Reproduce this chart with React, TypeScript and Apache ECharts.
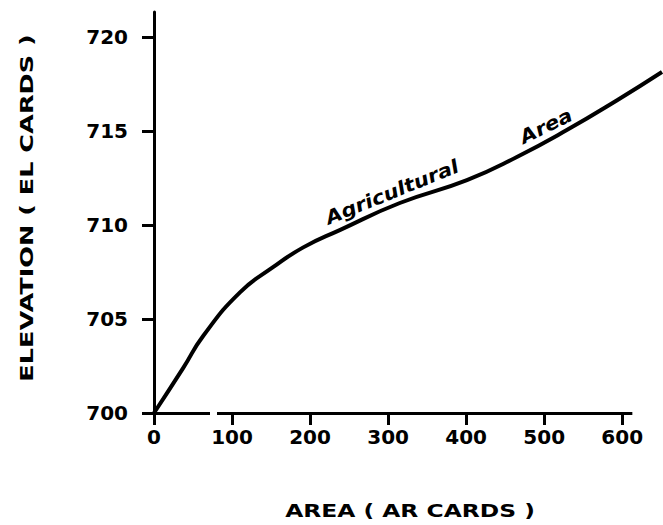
import React, { useEffect, useRef } from "react";
import * as echarts from "echarts";

const areaValues = [0, 37.5, 63.2, 110.2, 153, 191.3, 238, 315, 401, 465, 529, 594, 651];
const elevationValues = [700, 702.4, 704.11, 706.42, 707.77, 708.81, 709.73, 711.17, 712.39, 713.62, 715.05, 716.65, 718.14];
const xTicks = [0, 100, 200, 300, 400, 500, 600];
const yTicks = [700, 705, 710, 715, 720];
const xAxisEnd = 613;
const xTitle = "AREA ( AR CARDS )";
const yTitle = "ELEVATION ( EL CARDS )";
const label1 = "Agricultural";
const label2 = "Area";

const FONT = "DejaVu Sans";

export default function App() {
  const ref = useRef<HTMLDivElement>(null);
  useEffect(() => {
    if (!ref.current) return;
    const chart = echarts.init(ref.current, null, { renderer: "svg" });
    const data = areaValues.map((a, i) => [a, elevationValues[i]]);
    chart.setOption({
      animation: false,
      backgroundColor: "#ffffff",
      grid: { left: 154, right: 1, top: 12, bottom: 112, containLabel: false },
      xAxis: {
        type: "value",
        min: 0,
        max: 651,
        splitLine: { show: false },
        axisLine: { show: false },
        axisTick: { show: true, length: 12, inside: false, customValues: xTicks, lineStyle: { color: "#000", width: 3 } },
        axisLabel: {
          customValues: xTicks,
          margin: 14,
          color: "#000",
          fontFamily: FONT,
          fontWeight: "bold",
          fontSize: 20,
        },
      },
      yAxis: {
        type: "value",
        min: 700,
        max: 721.33,
        splitLine: { show: false },
        axisLine: { show: true, onZero: false, lineStyle: { color: "#000", width: 3 } },
        axisTick: { show: true, length: 12, inside: false, customValues: yTicks, lineStyle: { color: "#000", width: 3 } },
        axisLabel: {
          customValues: yTicks,
          margin: 26,
          color: "#000",
          fontFamily: FONT,
          fontWeight: "bold",
          fontSize: 20,
        },
      },
      series: [
        {
          type: "line",
          data,
          smooth: 0.5,
          clip: false,
          showSymbol: false,
          lineStyle: { color: "#000", width: 4 },
          markLine: {
            silent: true,
            symbol: ["none", "none"],
            label: { show: false },
            lineStyle: { color: "#000", width: 3, type: "solid" },
            data: [[{ coord: [0, yTicks[0]] }, { coord: [xAxisEnd, yTicks[0]] }]],
          },
        },
      ],
      graphic: [
        { type: "rect", shape: { x: 210, y: 409, width: 7, height: 8 }, style: { fill: "#fff" }, z: 100 },
        {
          type: "text",
          x: 410,
          y: 511,
          scaleX: 1.3,
          style: {
            text: xTitle,
            fill: "#000",
            font: `bold 18px "${FONT}"`,
            textAlign: "center",
            textVerticalAlign: "middle",
          },
        },
        {
          type: "text",
          x: 26,
          y: 208,
          rotation: Math.PI / 2,
          scaleX: 1.42,
          style: {
            text: yTitle,
            fill: "#000",
            font: `bold 18px "${FONT}"`,
            textAlign: "center",
            textVerticalAlign: "middle",
          },
        },
        {
          type: "text",
          x: 392,
          y: 192,
          rotation: (22 * Math.PI) / 180,
          scaleX: 1.12,
          style: {
            text: label1,
            fill: "#000",
            font: `italic bold 19px "${FONT}"`,
            textAlign: "center",
            textVerticalAlign: "middle",
          },
        },
        {
          type: "text",
          x: 546,
          y: 126,
          rotation: (26 * Math.PI) / 180,
          scaleX: 1.12,
          style: {
            text: label2,
            fill: "#000",
            font: `italic bold 19px "${FONT}"`,
            textAlign: "center",
            textVerticalAlign: "middle",
          },
        },
      ],
    });
    return () => chart.dispose();
  }, []);
  return <div ref={ref} style={{ position: "absolute", left: 0, top: 0, width: 663, height: 525 }} />;
}
